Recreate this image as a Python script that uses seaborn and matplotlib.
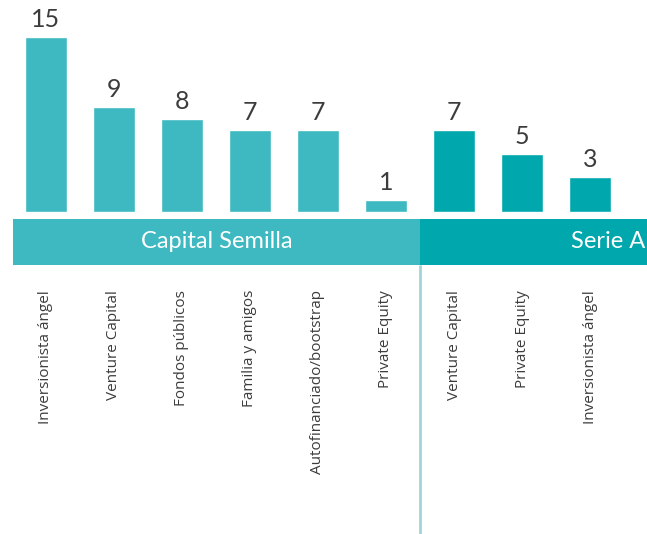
import matplotlib
matplotlib.use("Agg")
import matplotlib.pyplot as plt
import seaborn as sns
import pandas as pd

# Funding sources by stage
semilla_labels = ["Inversionista ángel", "Venture Capital", "Fondos públicos",
                  "Familia y amigos", "Autofinanciado/bootstrap", "Private Equity"]
semilla_values = [15, 9, 8, 7, 7, 1]
serie_a_labels = ["Venture Capital", "Private Equity", "Inversionista ángel"]
serie_a_values = [7, 5, 3]
stages = ["Capital Semilla", "Serie A"]

colors = {"Capital Semilla": "#3fb9c1", "Serie A": "#00a8ae"}
divider_color = "#9fd6d9"
text_color = "#3c3c3c"

labels = semilla_labels + serie_a_labels
values = semilla_values + serie_a_values
stage = [stages[0]] * len(semilla_labels) + [stages[1]] * len(serie_a_labels)
df = pd.DataFrame({
    "key": [f"{s}|{l}" for s, l in zip(stage, labels)],
    "label": labels,
    "value": values,
    "stage": stage,
})

sns.set_theme(style="white")
plt.rcParams["font.family"] = ["Open Sans", "DejaVu Sans"]

fig = plt.figure(figsize=(6.47, 5.34), dpi=100)
ax = fig.add_axes([0, 0, 1, 1])

sns.barplot(data=df, x="key", y="value", hue="stage", palette=colors,
            dodge=False, width=0.63, legend=False, ax=ax, saturation=1)

ax.set_xlim(-0.676, 8.838)
ax.set_ylim(-27.6, 18.17)
ax.axis("off")

# value labels above bars
for i, v in enumerate(df["value"]):
    ax.text(i, v + 0.5, str(v), ha="center", va="bottom",
            fontsize=18, color=text_color, family=["Lato", "DejaVu Sans"])

# stage band under the bars
n_semilla = len(semilla_labels)
split = n_semilla - 0.5
band_bottom, band_top = -4.54, -0.6
ax.fill_between([-0.485, split], band_bottom, band_top,
                color=colors["Capital Semilla"], lw=0)
ax.fill_between([split, 9.5], band_bottom, band_top,
                color=colors["Serie A"], lw=0)
band_mid = (band_bottom + band_top) / 2
ax.text((-0.485 + split) / 2, band_mid, stages[0], ha="center", va="center",
        color="white", fontsize=17, family=["Lato", "DejaVu Sans"])
ax.text(8.81, band_mid, stages[1], ha="right", va="center",
        color="white", fontsize=17, family=["Lato", "DejaVu Sans"])

# divider between stages
ax.plot([split, split], [band_bottom, -27.6], color=divider_color, lw=2,
        solid_capstyle="butt")

# category labels
for i, lab in enumerate(df["label"]):
    ax.text(i, -6.68, lab, rotation=90, ha="center", va="top",
            fontsize=11, color=text_color)

fig.savefig("out.png", dpi=100)
